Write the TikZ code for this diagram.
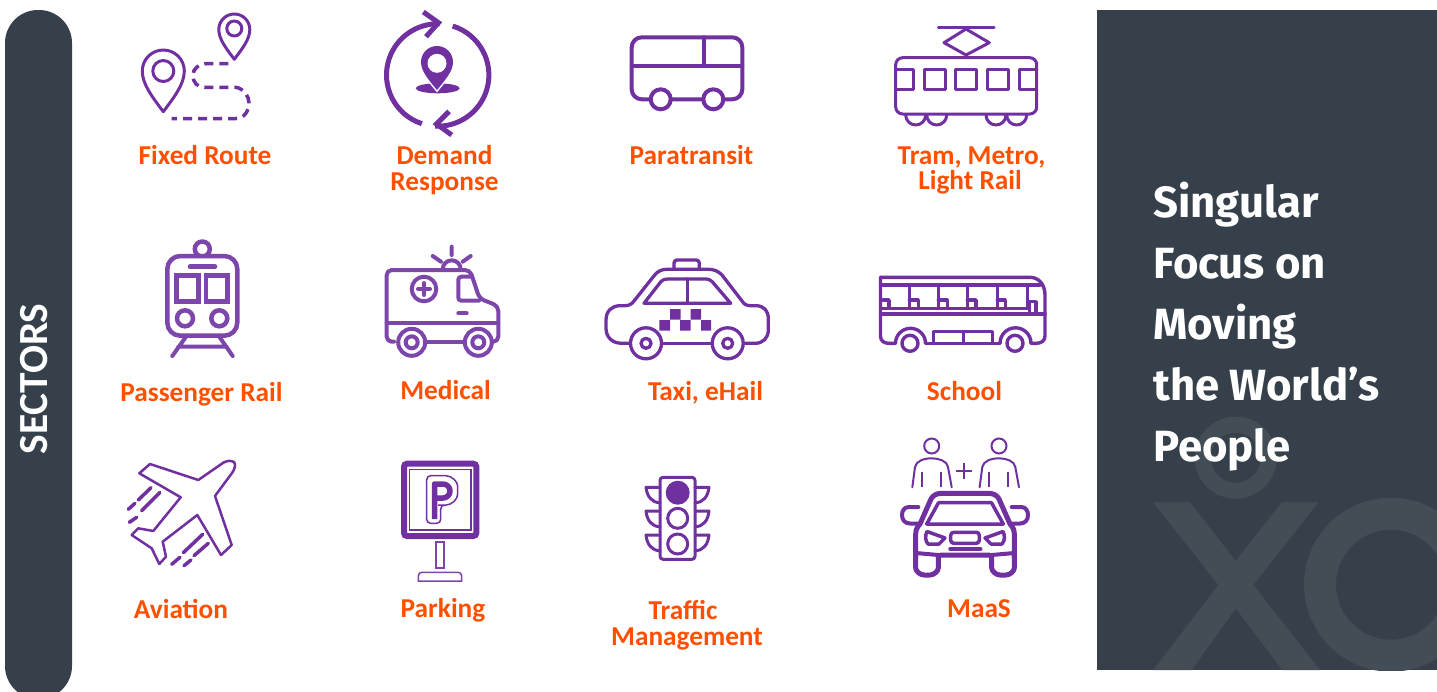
\documentclass[tikz,border=0pt]{standalone}
\usepackage{fontspec}
\setmainfont{Carlito}
\newfontfamily\headfont{Fira Sans}
\definecolor{purp}{HTML}{7030A0}
\definecolor{purpb}{HTML}{7C46AB}
\definecolor{slate}{HTML}{35404A}
\definecolor{ghost}{HTML}{434D56}
\definecolor{orng}{HTML}{FE5000}
\newcommand\pinpath[4]{({#1},{#4}) .. controls ({#1-0.55*#3},{#2+0.62*(#4-#2)}) and ({#1-#3},{#2+0.32*(#4-#2)}) .. ({#1-#3},{#2}) arc[start angle=180,end angle=360,radius=#3] .. controls ({#1+#3},{#2+0.32*(#4-#2)}) and ({#1+0.55*#3},{#2+0.62*(#4-#2)}) .. ({#1},{#4}) -- cycle}
\tikzset{
  lab/.style={anchor=base,text=orng,font=\fontsize{27.3}{27.3}\selectfont\bfseries,inner sep=0pt},
  headline/.style={anchor=base west,text=white,font=\headfont\fontsize{43.7}{43.7}\selectfont\bfseries,inner sep=0pt},
  ic/.style={draw=purp,line width=#1,line join=round,line cap=round},
  ic/.default=3pt,
  icb/.style={draw=purpb,line width=#1,line join=round,line cap=round},
  icb/.default=4pt
}
\begin{document}
\begin{tikzpicture}[x=1pt,y=-1pt]
\useasboundingbox (0,0) rectangle (1437,691);
% left bar
\begin{scope}
\clip (0,0) rectangle (1437,691);
\fill[slate,rounded corners=33pt] (5,10) rectangle (72,699);
\end{scope}
\node[rotate=90,text=white,font=\fontsize{41.4}{41.4}\selectfont\bfseries,inner sep=0pt] (sectors) at (34.5,379) {SECTORS};
% right panel
\fill[slate] (1097,10) rectangle (1437,670);
\begin{scope}
\clip (1097,10) rectangle (1437,670);
\draw[ghost,line width=16pt] (1235.7,457.7) circle[radius=33];
\fill[ghost] (1153.3,502.3) -- (1190,502.3) -- (1235.7,561) -- (1281.7,502.3) -- (1318.3,502.3) -- (1253.3,585) -- (1320,670) -- (1282.3,670) -- (1235.7,608.3) -- (1191.7,670) -- (1153.3,670) -- (1218.3,585) -- cycle;
\draw[ghost,line width=32pt] (1391,584.7) circle[radius=71];
\end{scope}
\node[headline] (h1) at (1153,217) {Singular};
\node[headline] (h2) at (1153,278) {Focus on};
\node[headline] (h3) at (1153,339.5) {Moving};
\node[headline] (h4) at (1153,400) {the World’s};
\node[headline] (h5) at (1153,461) {People};
% labels
\node[lab] (l1) at (205,164) {Fixed Route};
\node[lab] (l2a) at (444.5,164.5) {Demand};
\node[lab] (l2b) at (444.5,190.7) {Response};
\node[lab] (l3) at (691.5,164) {Paratransit};
\node[lab] (l4a) at (971.5,164) {Tram, Metro,};
\node[lab] (l4b) at (970,189.7) {Light Rail};
\node[lab] (l5) at (201.5,401.2) {Passenger Rail};
\node[lab] (l6) at (445.5,399.7) {Medical};
\node[lab] (l7) at (705.5,400) {Taxi, eHail};
\node[lab] (l8) at (964.5,400) {School};
\node[lab] (l9) at (181,618.7) {Aviation};
\node[lab] (l10) at (443,617.7) {Parking};
\node[lab] (l11a) at (683,619) {Traffic};
\node[lab] (l11b) at (687,645) {Management};
\node[lab] (l12) at (979,617.7) {MaaS};
% fixed route
\draw[ic=3pt] \pinpath{234.3}{29.5}{15.5}{59.3};
\draw[ic=3pt] (234.3,28.5) circle[radius=7.5];
\draw[ic=3pt] \pinpath{163.3}{71}{21}{111.7};
\draw[ic=3pt] (163.3,71) circle[radius=10.5];
\draw[purp,line width=3.5pt,dash pattern=on 9pt off 6pt] (228.3,63.5) -- (208,63.5) .. controls (198,64) and (193,69) .. (193,75) .. controls (193,83) and (197,87.3) .. (206,87.3) -- (236,87.3) .. controls (244,89) and (249,96) .. (249,103) .. controls (249,111) and (244,118.5) .. (236,118.5) -- (171.7,118.5);
% demand response
\draw[purp,line width=5pt] (437.7,75) ++(108:51.2) arc[start angle=108,end angle=272,radius=51.2];
\draw[purp,line width=5pt] (437.7,75) ++(287:51.2) arc[start angle=287,end angle=453,radius=51.2];
\draw[purp,line width=5pt,line join=miter] (423.3,12) -- (438.5,22.7) -- (426,36.7);
\draw[purp,line width=5pt,line join=miter] (451.7,135) -- (436.5,124) -- (449,111.5);
\fill[purp] (437.7,88.3) ellipse[x radius=22,y radius=5];
\draw[white,line width=3pt] \pinpath{437}{62}{16}{90};
\fill[purp] \pinpath{437}{62}{16}{90};
\fill[white] (437,63.3) circle[radius=9.5];
% paratransit
\draw[ic=4pt,rounded corners=10pt] (631.7,37.3) rectangle (742.3,99.3);
\draw[ic=4pt] (631.7,66) -- (742.3,66) (704,37.3) -- (704,66);
\draw[ic=4pt,fill=white] (660.7,99.3) circle[radius=10];
\draw[ic=4pt,fill=white] (713.3,99.3) circle[radius=10];
% tram
\draw[ic=3pt] (938.3,27.3) -- (994,27.3);
\draw[ic=3pt] (966,29) -- (989.3,42.7) -- (966,55) -- (944,42.7) -- cycle;
\draw[ic=3pt] (966,55) -- (966,57.7);
\draw[ic=3pt] (915.7-10,115) arc[start angle=180,end angle=0,radius=10];
\draw[ic=3pt] (936.7-10,115) arc[start angle=180,end angle=0,radius=10];
\draw[ic=3pt] (996-10,115) arc[start angle=180,end angle=0,radius=10];
\draw[ic=3pt] (1016.7-10,115) arc[start angle=180,end angle=0,radius=10];
\draw[ic=3pt,fill=white,rounded corners=7pt] (895.7,57.7) rectangle (1036.7,114);
\draw[ic=3pt] (895.7,69) -- (913.3,69) -- (913.3,89.3) -- (895.7,89.3);
\draw[ic=3pt] (924,69) rectangle (945,89.3);
\draw[ic=3pt] (955.7,69) rectangle (976.7,89.3);
\draw[ic=3pt] (987.3,69) rectangle (1008.3,89.3);
\draw[ic=3pt] (1036.7,69) -- (1019.3,69) -- (1019.3,89.3) -- (1036.7,89.3);
% passenger rail
\draw[icb=4.5pt,fill=white] (202.3,249) circle[radius=7.5];
\draw[icb=4.5pt,fill=white,rounded corners=13pt] (167.3,256) rectangle (237.3,335.7);
\draw[icb=4.5pt] (190,266.7) -- (215,266.7);
\draw[icb=4.5pt,line join=miter] (176.7,275.7) rectangle (198.3,301.7);
\draw[icb=4.5pt,line join=miter] (206,275.7) rectangle (227.7,301.7);
\draw[icb=4.5pt] (185,318.3) circle[radius=8];
\draw[icb=4.5pt] (219.3,318.3) circle[radius=8];
\draw[icb=4pt] (186,336.7) -- (172.3,356) (219.3,336.7) -- (232.7,356) (178.3,346.7) -- (226.7,346.7);
% medical
\draw[icb=4pt] (442.7,269.3) arc[start angle=180,end angle=360,radius=9];
\draw[icb=4pt] (451.7,246.7) -- (451.7,255) (432.7,256) -- (441,261.7) (470.7,256) -- (462.7,261.7);
\draw[icb=4pt,rounded corners=5pt] (394,341.7) -- (386.7,341.7) -- (386.7,270) -- (470,270) -- (479.5,298.5) -- (498.3,306) -- (498.3,341.7) -- (490,341.7);
\draw[icb=4pt] (425,341.7) -- (465,341.7);
\draw[icb=4pt,rounded corners=3pt] (472,276.7) -- (458.3,276.7) -- (458.3,300.7) -- (479,300.7);
\draw[icb=4pt] (458.3,313.3) -- (466.7,313.3);
\draw[icb=4pt] (386.7,322.7) -- (498.3,322.7);
\draw[icb=4pt] (424,289) circle[radius=12.3];
\draw[icb=4pt] (418,289) -- (430,289) (424,283) -- (424,295);
\foreach \wx in {411.7,478.3}{
  \draw[icb=4pt,fill=white] (\wx,342.3) circle[radius=13.5];
  \draw[icb=4pt] (\wx,342.3) circle[radius=6];
}
% taxi
\draw[ic=3.3pt] (631.7,343.3) -- (622,343.3) .. controls (612,343.3) and (606,337) .. (606,328.3) -- (606,320) .. controls (606,311) and (612,305.7) .. (620,305.7) -- (625,305.7) .. controls (629,305.7) and (632,304) .. (634,301) -- (653.3,276.7) .. controls (657,271.5) and (661,269.3) .. (667,269.3) -- (708,269.3) .. controls (714,269.3) and (718,271) .. (722,275) -- (742,301) .. controls (744,304.5) and (747,305.7) .. (751,305.7) -- (756,305.7) .. controls (764,305.7) and (768.3,311) .. (768.3,318.3) -- (768.3,330) .. controls (768.3,338) and (763,343.3) .. (755,343.3) -- (745,343.3);
\draw[ic=3.3pt] (661.7,343.3) -- (711.7,343.3);
\draw[ic=3.3pt,rounded corners=3pt] (674,269.3) -- (674,260) -- (699.3,260) -- (699.3,269.3);
\draw[ic=3.3pt] (644,303.3) -- (730.7,303.3) -- (712,281.5) .. controls (710,279.5) and (708,279) .. (706,279) -- (668,279) .. controls (665,279) and (663,279.5) .. (661,281.5) -- cycle;
\draw[ic=3.3pt] (687.3,279) -- (687.3,303.3);
\fill[purp] (670,309) rectangle (680.7,319.7) (690.7,309) rectangle (701,319.7) (659.3,320) rectangle (670,330.7) (680,320) rectangle (690.7,330.7) (701,320) rectangle (711,330.7);
\foreach \wx in {646,727.7}{
  \draw[ic=3.3pt,fill=white] (\wx,343.3) circle[radius=15.5];
  \draw[ic=3.3pt] (\wx,343.3) circle[radius=5];
}
% school
\draw[ic=3.4pt] (880.5,277.3) -- (1030,277.3) .. controls (1039,277.3) and (1045,285) .. (1045,295) -- (1045,336) .. controls (1045,341) and (1041,343.3) .. (1036,343.3) -- (1031,343.3);
\draw[ic=3.4pt] (880.5,277.3) -- (880.5,336) .. controls (880.5,341) and (884,343.3) .. (889,343.3) -- (895.5,343.3);
\draw[ic=3.4pt] (895.5,343.3) arc[start angle=180,end angle=360,radius=15];
\draw[ic=3.4pt] (1000,343.3) arc[start angle=180,end angle=360,radius=15.5];
\draw[ic=3.4pt] (925.5,343.3) -- (1000,343.3);
\draw[ic=3.4pt] (880.5,285) -- (1040,285);
\draw[ic=3.4pt] (880.5,308.3) -- (1027,308.3);
\draw[ic=3.4pt] (880.5,314) -- (1045,314);
\foreach \px/\qx in {909.3/918.3,938.3/947.3,967.3/976,997.3/1005.3}{
  \draw[ic=3.4pt] (\px,285) -- (\px,308.3) (\px,300) -- (\qx,300) -- (\qx,308.3);
}
\draw[ic=3.4pt] (883,300) -- (889,300) -- (889,308.3);
\draw[ic=3.4pt] (1027.3,285) -- (1027.3,308.3);
\draw[ic=3.4pt] (1029.5,314) -- (1029.5,301.7) -- (1036,301.7) -- (1036,314);
\draw[ic=3.4pt] (933.3,343.3) -- (933.3,331.7) -- (992.7,331.7) -- (992.7,343.3);
\draw[ic=3.4pt] (963.3,331.7) -- (963.3,343.3);
\draw[ic=3.4pt] (910,343.3) circle[radius=8];
\draw[ic=3.4pt] (1015,343.3) circle[radius=8];
% aviation
\draw[ic=2.5pt] (234,462) .. controls (231,460) and (226,461) .. (223.3,462.7) -- (198.3,480) -- (150,464) -- (139.3,473.3) -- (180.7,497.3) -- (153.3,531) -- (138.3,528.3) -- (131.7,535) -- (151.7,548.3) -- (159.3,564) -- (166,556.7) -- (162.7,541.7) -- (197.3,515) -- (221,555) -- (231.7,545) -- (215,496) -- (232,473) .. controls (235,469) and (236,464) .. (234,462) -- cycle;
\draw[ic=3.5pt] (151,487.7) -- (138.3,500) (135,503.3) -- (128.3,509.3) (160,492.3) -- (141.7,510.7) (136.7,517.3) -- (129.3,522.3) (202.7,534.3) -- (183.3,552.7) (180,557.3) -- (171.7,564.3) (208.3,543.3) -- (194,555.7) (191,560) -- (184,565.7);
% parking
\draw[purp,line width=6pt,rounded corners=3pt] (404,463.7) rectangle (476.3,536);
\draw[purp,line width=1.5pt] (409.3,469.3) rectangle (471,530);
\draw[purp,line width=1.5pt,rounded corners=4pt] (426.7,523.3) -- (426.7,475.7) -- (442,475.7) .. controls (452,475.7) and (457.7,482) .. (457.7,490) .. controls (457.7,499) and (452,505) .. (442,505) -- (440.7,505) -- (440.7,523.3) -- cycle;
\draw[purp,line width=5.5pt,line join=round] (434.5,519) -- (434.5,484) -- (443,484) arc[start angle=270,end angle=450,radius=7] -- (434.5,498);
\draw[purpb,line width=1.8pt] (435.7,542.3) rectangle (444.3,568.3);
\draw[purpb,line width=1.5pt] (418.3,581) -- (418.3,576) .. controls (418.3,573.5) and (420,572.3) .. (422,572.3) -- (458,572.3) .. controls (460,572.3) and (461.7,573.5) .. (461.7,576) -- (461.7,581) -- cycle;
% traffic
\foreach \wy/\wz in {487.3/502.7,511/526.7,535/550.7}{
  \draw[ic=3pt] (660,\wy) -- (646,\wy) .. controls (647,{\wz-6}) and (652,\wz) .. (660,\wz);
  \draw[ic=3pt] (695,\wy) -- (709,\wy) .. controls (708,{\wz-6}) and (703,\wz) .. (695,\wz);
}
\draw[ic=3pt,rounded corners=3pt] (660,477.3) rectangle (695,559.3);
\fill[purp] (677.7,492.7) circle[radius=12];
\draw[ic=3pt] (677.7,518.3) circle[radius=10];
\draw[ic=3pt] (677.7,544) circle[radius=10];
% maas
\foreach \dx in {0,67.3}{
  \draw[purp,line width=2pt] (931.7+\dx,446) circle[radius=7.5];
  \draw[purp,line width=2pt,line cap=round] (912.3+\dx,487.3) -- (915+\dx,467) .. controls (916+\dx,461) and (924+\dx,458.3) .. (931.7+\dx,458.3) .. controls (939+\dx,458.3) and (947+\dx,461) .. (948+\dx,467) -- (951.7+\dx,487.3);
  \draw[purp,line width=2pt] (921.7+\dx,471.7) -- (921.7+\dx,487.3) (941+\dx,471.7) -- (941+\dx,487.3);
}
\draw[purp,line width=2pt] (956,471) -- (972,471) (964,463) -- (964,479);
\draw[ic=5pt] (915.7,558) -- (915.7,534) .. controls (915.7,530) and (917,527) .. (920,524) -- (931,499) .. controls (933,495) and (937,493.3) .. (942,493.3) -- (988,493.3) .. controls (993,493.3) and (997,495) .. (999,499) -- (1010,524) .. controls (1013,527) and (1014.3,530) .. (1014.3,534) -- (1014.3,558);
\draw[ic=4pt,fill=white] (918.3,507) -- (909,507) .. controls (904,507) and (902,511) .. (902,515) .. controls (902,520) and (905,523.5) .. (910,523.5) -- (917,523.5);
\draw[ic=4pt] (1011.7,507) -- (1021,507) .. controls (1026,507) and (1028,511) .. (1028,515) .. controls (1028,520) and (1025,523.5) .. (1020,523.5) -- (1013,523.5);
\draw[ic=5pt,rounded corners=3pt] (915.7,553) -- (915.7,565) .. controls (915.7,571) and (920,575) .. (927,575) .. controls (934,575) and (938.3,571) .. (938.3,565) -- (938.3,555) -- (991.7,555) -- (991.7,565) .. controls (991.7,571) and (996,575) .. (1003,575) .. controls (1010,575) and (1014.3,571) .. (1014.3,565) -- (1014.3,553);
\draw[ic=4pt] (915.7,553) -- (938.3,555) (1014.3,553) -- (991.7,555);
\draw[ic=3.5pt] (938.5,502.7) -- (991.5,502.7) -- (1003.3,524) -- (926.7,524) -- cycle;
\draw[ic=3.5pt] (927,531.5) -- (945,538) -- (939,544) -- (928,544) .. controls (925,541) and (925,535) .. (927,531.5) -- cycle;
\draw[ic=3.5pt] (1003,531.5) -- (985,538) -- (991,544) -- (1002,544) .. controls (1005,541) and (1005,535) .. (1003,531.5) -- cycle;
\draw[ic=3.5pt,rounded corners=3pt] (950.7,532.3) rectangle (979.3,543.3);
\draw[ic=3.5pt] (950,549) -- (980.7,549);
\end{tikzpicture}
\end{document}
